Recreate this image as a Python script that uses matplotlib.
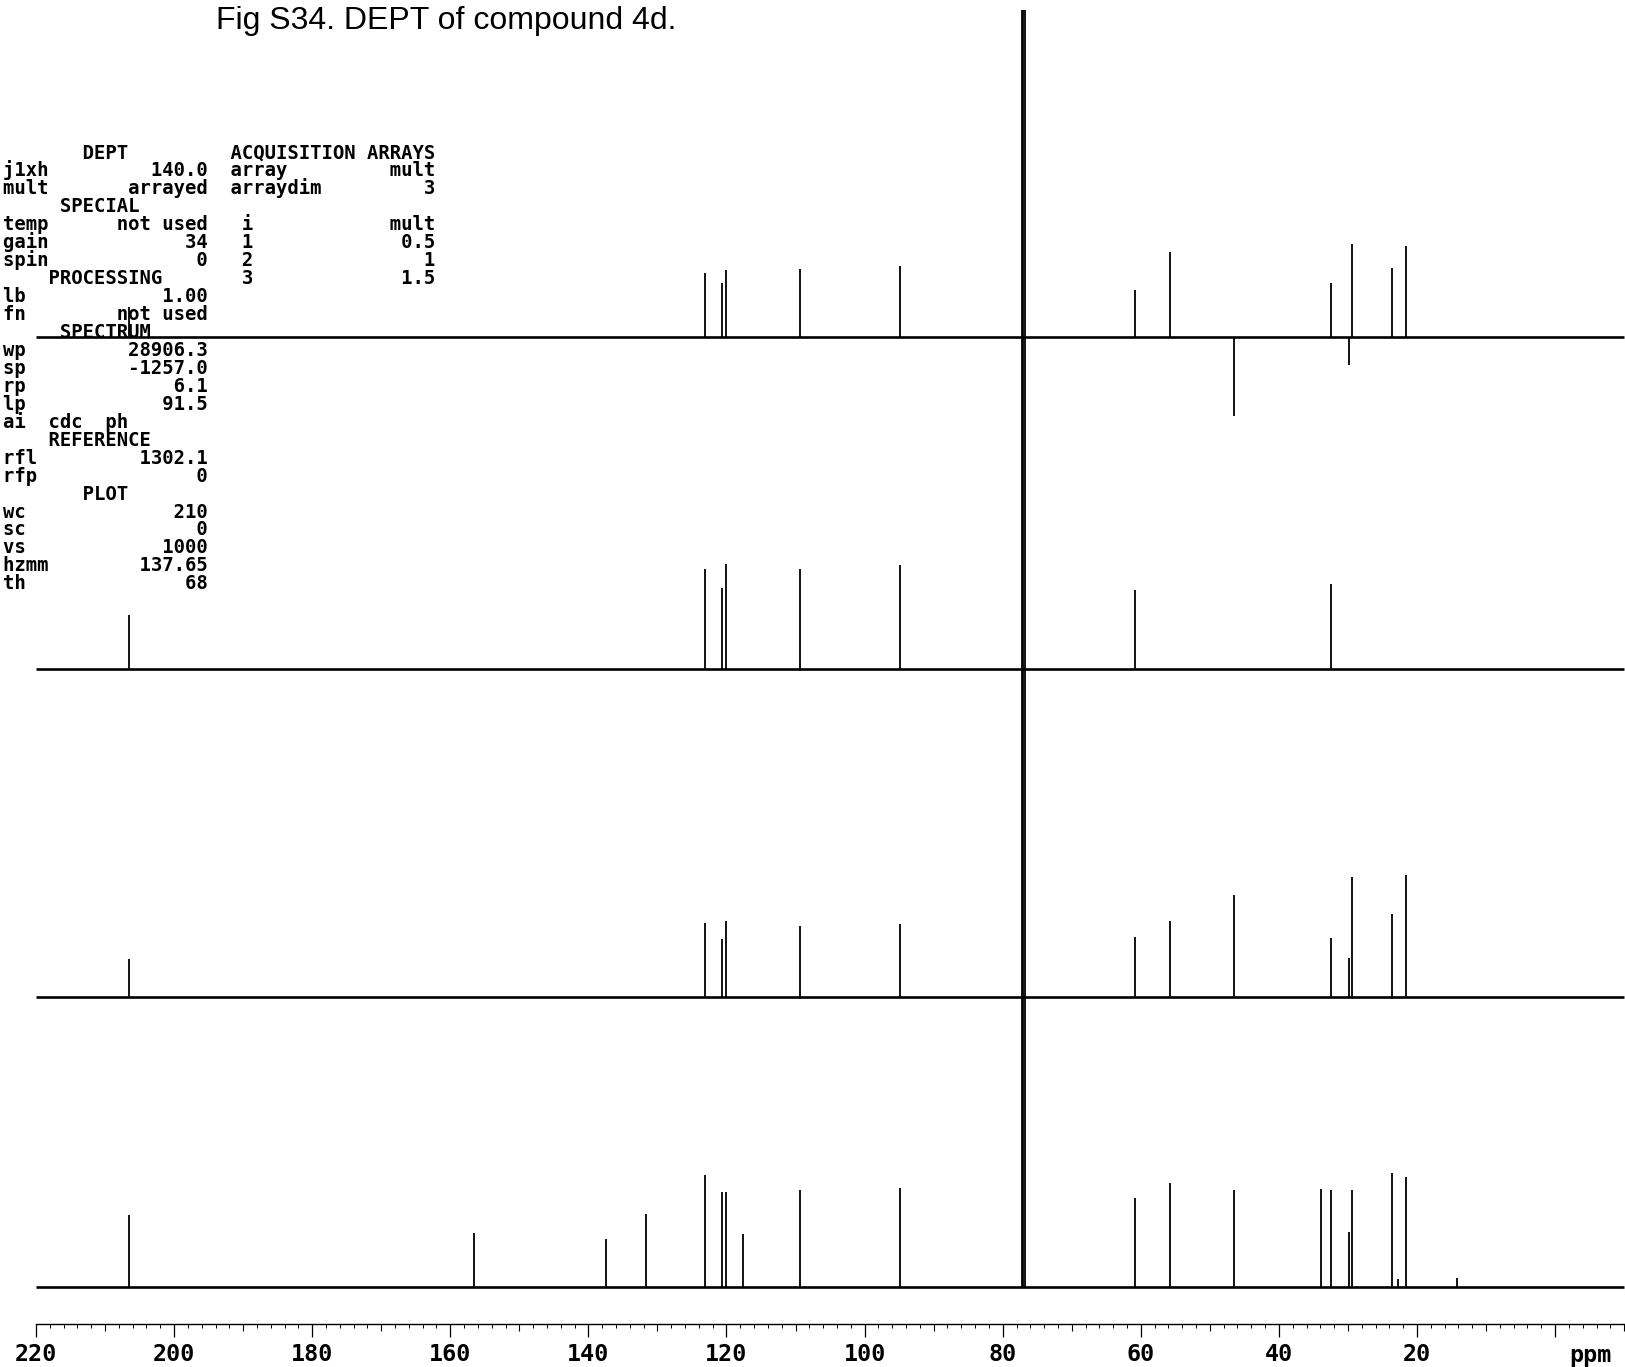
import numpy as np
import matplotlib
matplotlib.use('Agg')
from matplotlib import pyplot as plt
from matplotlib.ticker import FixedLocator, FuncFormatter

W, H = 1625, 1367          # output size in px (dpi 100)

# ---- peak lists (ppm, intensity in plot px) ----
# bottom: full 13C spectrum (CDCl3 triplet goes off scale)
c13_ppm = [206.6, 156.6, 137.45, 131.7, 123.05, 120.6, 120.05, 117.55, 109.35, 94.85,
           77.25, 77.0, 76.75, 60.8, 55.7, 46.5, 33.9, 32.4, 29.8, 29.4, 23.6, 22.8, 21.6, 14.2]
c13_int = [72, 54, 48, 73, 112, 95, 95, 53, 97, 99,
           3000, 3000, 3000, 89, 104, 97, 98, 97, 55, 97, 114, 8, 110, 9]

# DEPT mult = 0.5 (third trace)
d45_ppm = [206.6, 123.05, 120.6, 120.05, 109.35, 94.85, 60.8, 55.7, 46.5, 32.4, 29.8, 29.4, 23.6, 21.6]
d45_int = [38, 74, 58, 76, 71, 73, 60, 76, 102, 59, 39, 120, 83, 122]

# DEPT mult = 1 (second trace, CH only)
d90_ppm = [206.6, 123.05, 120.6, 120.05, 109.35, 94.85, 60.8, 32.4]
d90_int = [54, 100, 81, 105, 100, 104, 79, 85]

# DEPT mult = 1.5 (top trace, CH2 negative)
d135_ppm = [206.6, 123.05, 120.6, 120.05, 109.35, 94.85, 60.8, 55.7, 46.5, 32.4, 29.8, 29.4, 23.6, 21.6]
d135_int = [30, 64, 54, 67, 68, 71, 47, 85, -79, 54, -28, 93, 69, 91]

traces = [(d135_ppm, d135_int, 1030), (d90_ppm, d90_int, 698.5),
          (d45_ppm, d45_int, 370), (c13_ppm, c13_int, 80.5)]
plot_top = 1357


def row(lk='', lv='', rk='', rv=''):
    left = lk + lv.rjust(18 - len(lk))
    if not rk and not rv:
        return left.rstrip()
    return left + '  ' + rk + rv.rjust(18 - len(rk))


def head(name, right=''):
    left = (' ' * ((18 - len(name)) // 2) + name).ljust(18)
    return (left + '  ' + right).rstrip()


param_lines = [
    head('DEPT', 'ACQUISITION ARRAYS'),
    row('j1xh', '140.0', 'array', 'mult'),
    row('mult', 'arrayed', 'arraydim', '3'),
    head('SPECIAL'),
    row('temp', 'not used', ' i', 'mult'),
    row('gain', '34', ' 1', '0.5'),
    row('spin', '0', ' 2', '1'),
    head('PROCESSING', ' 3' + '1.5'.rjust(16)),
    row('lb', '1.00'),
    row('fn', 'not used'),
    head('SPECTRUM'),
    row('wp', '28906.3'),
    row('sp', '-1257.0'),
    row('rp', '6.1'),
    row('lp', '91.5'),
    'ai  cdc  ph',
    head('REFERENCE'),
    row('rfl', '1302.1'),
    row('rfp', '0'),
    head('PLOT'),
    row('wc', '210'),
    row('sc', '0'),
    row('vs', '1000'),
    row('hzmm', '137.65'),
    row('th', '68'),
]

fig = plt.figure(figsize=(W / 100, H / 100), dpi=100)
ax = fig.add_axes([0, 0, 1, 1])
ax.set_xlim(225.21, -10.12)
ax.set_ylim(0, H)
ax.patch.set_alpha(0)

for ppm, inten, base in traces:
    ax.hlines(base, 220, -10, colors='black', lw=1.9)
    tops = np.clip(base + np.array(inten, dtype=float), None, plot_top)
    ax.vlines(ppm, base, tops, colors='black', lw=1.3)

# axis: long ticks every 20, short every 2
for s in ['top', 'left', 'right']:
    ax.spines[s].set_visible(False)
ax.spines['bottom'].set_position(('data', H - 1324))
ax.spines['bottom'].set_bounds(220, -10)
ax.spines['bottom'].set_linewidth(1.0)
ax.yaxis.set_visible(False)
ax.xaxis.set_major_locator(FixedLocator(np.arange(220, -1, -20)))
ax.xaxis.set_minor_locator(FixedLocator(np.arange(218, -11, -2)))
ax.xaxis.set_major_formatter(FuncFormatter(lambda v, p: '' if v == 0 else '%d' % v))
ax.tick_params(axis='x', which='major', direction='out', length=9, width=0.9, pad=5,
               labelsize=16.8)
ax.tick_params(axis='x', which='minor', direction='out', length=3, width=0.7)
for lab in ax.get_xticklabels():
    lab.set_family('DejaVu Sans Mono')
    lab.set_weight('bold')

# medium ticks every 10
ax2 = ax.twiny()
ax2.set_xlim(ax.get_xlim())
ax2.patch.set_alpha(0)
for s in ['top', 'left', 'right', 'bottom']:
    ax2.spines[s].set_visible(False)
ax2.xaxis.set_ticks_position('bottom')
ax2.spines['bottom'].set_position(('data', H - 1324))
ax2.xaxis.set_major_locator(FixedLocator(np.arange(210, -11, -20)))
ax2.xaxis.set_minor_locator(FixedLocator([]))
ax2.tick_params(axis='x', which='major', direction='out', length=5, width=0.8,
                labelbottom=False, labeltop=False)

ax.text(-5.1, H - 1362, 'ppm', family='DejaVu Sans Mono', weight='bold', fontsize=16.8,
        ha='center', va='baseline')

# parameter block
for k, line in enumerate(param_lines):
    fig.text(3.3 / W, 1 - (158.5 + 17.95 * k) / H, line, family='DejaVu Sans Mono',
             weight='bold', fontsize=13.6, va='baseline', ha='left')

fig.text(215.6 / W, 1 - 29 / H, 'Fig S34. DEPT of compound 4d.', family='Liberation Sans',
         fontsize=23, va='baseline', ha='left')

fig.savefig('out.png', dpi=100)
